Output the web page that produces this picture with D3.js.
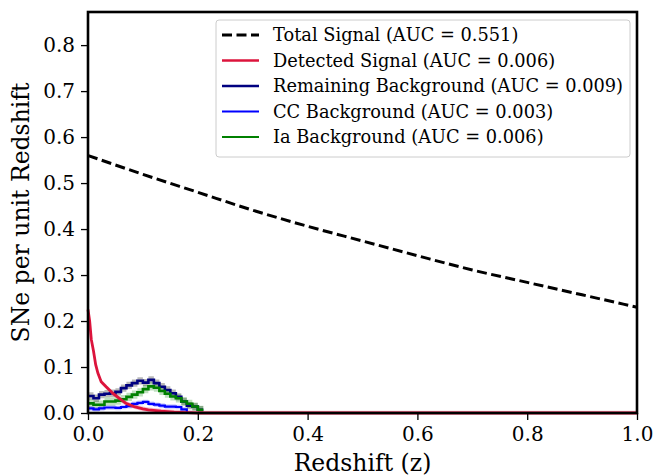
<!DOCTYPE html>
<meta charset="utf-8">
<style>
    body { margin: 0; background: #fff; }
    .container { width: 656px; height: 476px; }
    text { font-family: "DejaVu Serif", serif; fill: #000; }
</style>
<body>
<div class="container"></div>
<script src="https://cdn.jsdelivr.net/npm/d3@7"></script>
<script>

// total signal, sampled every 0.1 in z
const totalZ = [0, 0.1, 0.2, 0.3, 0.4, 0.5, 0.6, 0.7, 0.8, 0.9, 1.0];
const totalV = [0.560, 0.519, 0.480, 0.441, 0.406, 0.374, 0.342, 0.311, 0.284, 0.257, 0.230];

// detected signal
const detZ = [0, 0.003, 0.006, 0.010, 0.014, 0.018, 0.024, 0.033, 0.045, 0.057, 0.069, 0.084, 0.100, 0.110, 0.133, 0.157, 0.180, 0.200, 1.0];
const detV = [0.225, 0.200, 0.160, 0.135, 0.105, 0.087, 0.068, 0.057, 0.043, 0.032, 0.021, 0.014, 0.009, 0.007, 0.004, 0.002, 0.001, 0, 0];
const detErr = 0.005;

// histograms, bin width 0.01 starting at z = 0
const binW = 0.01;
const remainV = [0.037, 0.032, 0.040, 0.042, 0.043, 0.046, 0.054, 0.060, 0.065, 0.070, 0.066, 0.072, 0.065, 0.057, 0.050, 0.043, 0.035, 0.025, 0.016, 0.014, 0.007];
const ccV     = [0.010, 0.008, 0.010, 0.012, 0.012, 0.011, 0.013, 0.015, 0.020, 0.022, 0.024, 0.020, 0.018, 0.016, 0.014, 0.014, 0.013, 0.008, 0];
const iaV     = [0.021, 0.018, 0.018, 0.025, 0.025, 0.027, 0.030, 0.035, 0.040, 0.045, 0.052, 0.058, 0.055, 0.048, 0.042, 0.036, 0.032, 0.025, 0.020, 0.014, 0.007];
const remainErr = 0.008;
const ccErr = 0.005;
const iaErr = 0.009;

const legendLabels = [
    'Total Signal (AUC = 0.551)',
    'Detected Signal (AUC = 0.006)',
    'Remaining Background (AUC = 0.009)',
    'CC Background (AUC = 0.003)',
    'Ia Background (AUC = 0.006)'
];
const xTicks = [0, 0.2, 0.4, 0.6, 0.8, 1.0];
const yTicks = [0, 0.1, 0.2, 0.3, 0.4, 0.5, 0.6, 0.7, 0.8];

const width = 656;
const height = 476;
const margin = {top: 12, right: 19, bottom: 63, left: 88};

const svg = d3.select('.container')
    .append('svg')
    .attr('width', width)
    .attr('height', height);

const x = d3.scaleLinear().domain([0, 1]).range([margin.left, width - margin.right]);
const y = d3.scaleLinear().domain([0, 0.872]).range([height - margin.bottom, margin.top]);

const plot = svg.append('g');

// turn bin values into step points (left edges + closing edge)
const steps = (vals) => {
    const pts = vals.map((v, i) => ({z: i * binW, v: v}));
    pts.push({z: vals.length * binW, v: vals[vals.length - 1]});
    return pts;
};

const stepLine = d3.line().x(d => x(d.z)).y(d => y(d.v)).curve(d3.curveStepAfter);
const stepBand = (err) => d3.area()
    .x(d => x(d.z))
    .y0(d => y(Math.max(0, d.v - err)))
    .y1(d => y(d.v + err))
    .curve(d3.curveStepAfter);

// bands
plot.append('path').datum(steps(remainV)).attr('d', stepBand(remainErr))
    .style('fill', '#808080').style('fill-opacity', 0.55);
plot.append('path').datum(steps(iaV)).attr('d', stepBand(iaErr))
    .style('fill', '#008000').style('fill-opacity', 0.25);
plot.append('path').datum(steps(ccV)).attr('d', stepBand(ccErr))
    .style('fill', '#0000ff').style('fill-opacity', 0.2);

const detPts = detZ.map((z, i) => ({z: z, v: detV[i]}));
plot.append('path').datum(detPts)
    .attr('d', d3.area().x(d => x(d.z)).y0(d => y(Math.max(0, d.v - detErr))).y1(d => y(d.v + detErr)))
    .style('fill', '#dc143c').style('fill-opacity', 0.25);

// step lines
plot.append('path').datum(steps(remainV)).attr('d', stepLine)
    .style('fill', 'none').style('stroke', '#000080').style('stroke-width', 2.6);
plot.append('path').datum(steps(ccV)).attr('d', stepLine)
    .style('fill', 'none').style('stroke', '#0000ff').style('stroke-width', 2.2);
plot.append('path').datum(steps(iaV)).attr('d', stepLine)
    .style('fill', 'none').style('stroke', '#008000').style('stroke-width', 2.6);

plot.append('path').datum(detPts)
    .attr('d', d3.line().x(d => x(d.z)).y(d => y(d.v)))
    .style('fill', 'none').style('stroke', '#dc143c').style('stroke-width', 2.8);

const totPts = totalZ.map((z, i) => ({z: z, v: totalV[i]}));
plot.append('path').datum(totPts)
    .attr('d', d3.line().x(d => x(d.z)).y(d => y(d.v)).curve(d3.curveMonotoneX))
    .style('fill', 'none').style('stroke', '#000').style('stroke-width', 3)
    .style('stroke-dasharray', '10,4.5');

// axes
const xAxis = svg.append('g')
    .attr('transform', `translate(0,${height - margin.bottom})`)
    .call(d3.axisBottom(x).tickValues(xTicks).tickFormat(d3.format('.1f')).tickSize(7).tickPadding(7));
const yAxis = svg.append('g')
    .attr('transform', `translate(${margin.left},0)`)
    .call(d3.axisLeft(y).tickValues(yTicks).tickFormat(d3.format('.1f')).tickSize(7).tickPadding(6));

[xAxis, yAxis].forEach(a => {
    a.select('.domain').remove();
    a.selectAll('.tick line').style('stroke', '#000').style('stroke-width', 1.3);
    a.selectAll('.tick text').style('font-family', '"DejaVu Serif", serif').style('font-size', '20px');
});

// frame
svg.append('rect')
    .attr('x', margin.left).attr('y', margin.top)
    .attr('width', width - margin.left - margin.right)
    .attr('height', height - margin.top - margin.bottom)
    .style('fill', 'none').style('stroke', '#000').style('stroke-width', 2.6);

// axis titles
svg.append('text')
    .attr('x', x(0.5)).attr('y', 471)
    .attr('text-anchor', 'middle')
    .style('font-size', '23.5px')
    .text('Redshift (z)');
svg.append('text')
    .attr('transform', `translate(29,${y(0.436)}) rotate(-90)`)
    .attr('text-anchor', 'middle')
    .style('font-size', '23.5px')
    .text('SNe per unit Redshift');

// legend
const legend = svg.append('g').attr('transform', 'translate(216,20)');
legend.append('rect')
    .attr('width', 414).attr('height', 137).attr('rx', 3)
    .style('fill', '#fff').style('fill-opacity', 0.8)
    .style('stroke', '#cccccc').style('stroke-width', 1);

const legendStyles = [
    {color: '#000', dash: '10,4.5', w: 3},
    {color: '#dc143c', dash: null, w: 2.5},
    {color: '#000080', dash: null, w: 2.5},
    {color: '#0000ff', dash: null, w: 2},
    {color: '#008000', dash: null, w: 2}
];

legendLabels.forEach((label, i) => {
    const row = legend.append('g').attr('transform', `translate(0,${15 + i * 25.5})`);
    row.append('line')
        .attr('x1', 6).attr('x2', 43).attr('y1', 0).attr('y2', 0)
        .style('stroke', legendStyles[i].color)
        .style('stroke-width', legendStyles[i].w)
        .style('stroke-dasharray', legendStyles[i].dash);
    row.append('text')
        .attr('x', 57).attr('y', 6)
        .style('font-size', '17.8px')
        .text(label);
});

</script>
</body>
